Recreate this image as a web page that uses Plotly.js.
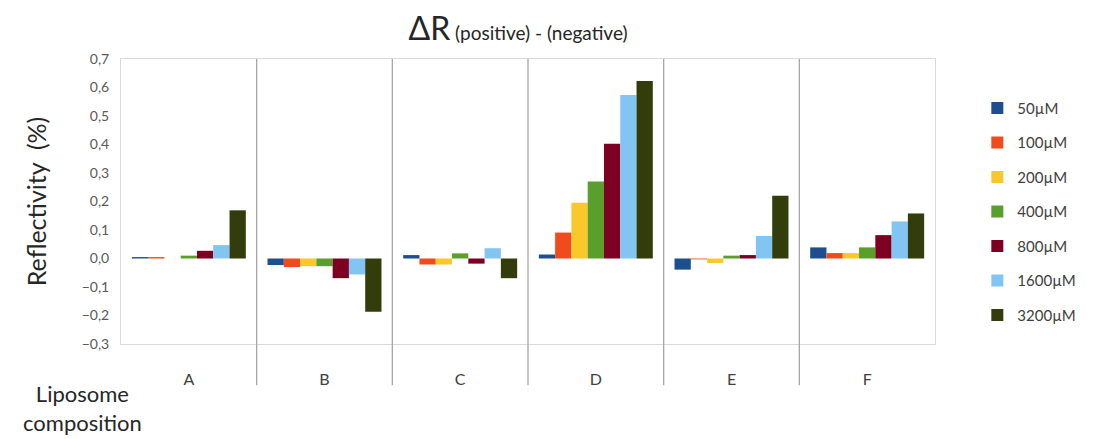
<!DOCTYPE html>
<html>
<head>
<meta charset="utf-8">
<script src="https://cdn.plot.ly/plotly-3.0.1.min.js"></script>
<style>html,body{margin:0;padding:0;background:#fff;}#chart{width:1114px;height:439px;}</style>
</head>
<body>
<div id="chart"></div>
<script>
const categories = ['A', 'B', 'C', 'D', 'E', 'F'];
const seriesNames = ['50µM', '100µM', '200µM', '400µM', '800µM', '1600µM', '3200µM'];
const seriesColors = ['#1d4f8e', '#f04b1c', '#fbc82c', '#5a9e2c', '#7d0022', '#82c4f2', '#323d0b'];
const v50   = [0.005, -0.023, 0.012, 0.014, -0.039, 0.039];
const v100  = [0.005, -0.030, -0.021, 0.091, -0.003, 0.019];
const v200  = [0.000, -0.027, -0.021, 0.196, -0.016, 0.019];
const v400  = [0.010, -0.027, 0.018, 0.270, 0.010, 0.039];
const v800  = [0.027, -0.069, -0.018, 0.403, 0.012, 0.082];
const v1600 = [0.047, -0.056, 0.036, 0.574, 0.079, 0.130];
const v3200 = [0.169, -0.187, -0.069, 0.623, 0.220, 0.158];
const yTicks = [-0.3, -0.2, -0.1, 0, 0.1, 0.2, 0.3, 0.4, 0.5, 0.6, 0.7];

const values = [v50, v100, v200, v400, v800, v1600, v3200];
const font = 'Lato, "Open Sans", sans-serif';

const traces = values.map((vals, i) => ({
  type: 'bar',
  x: categories,
  y: vals,
  name: seriesNames[i],
  legendgroup: 'g' + i,
  marker: {color: seriesColors[i], line: {width: 0}},
  hoverinfo: 'x+y+name'
}));

// Dividers between categories (Excel-like category tick marks)
const shapes = [];
for (let k = 1; k < categories.length; k++) {
  shapes.push({type: 'line', xref: 'x', yref: 'paper', x0: k - 0.5, x1: k - 0.5, y0: -0.145, y1: 1,
    line: {color: '#a6a6a6', width: 1.3}, layer: 'above'});
}

const layout = {
  width: 1114, height: 439,
  margin: {l: 121, r: 179, t: 59, b: 95},
  paper_bgcolor: '#ffffff', plot_bgcolor: '#ffffff',
  separators: ',.',
  font: {family: font, color: '#595959'},
  title: {
    text: '<span style="font-size:32px">ΔR</span><span style="font-size:19px"> (positive) - (negative)</span>',
    font: {family: font, color: '#262626', size: 32},
    x: 0.465, xanchor: 'center', y: 0.935, yanchor: 'middle'
  },
  barmode: 'group',
  bargap: 0.16,
  bargroupgap: 0,
  xaxis: {
    type: 'category',
    showgrid: false, zeroline: false,
    showline: true, mirror: true, linecolor: '#d9d9d9', linewidth: 1,
    ticks: '', tickfont: {size: 16, color: '#404040', family: font},
    ticklabelstandoff: 21
  },
  yaxis: {
    range: [-0.3, 0.7],
    tickvals: yTicks, tickformat: '.1f',
    showgrid: false, zeroline: false,
    showline: true, mirror: true, linecolor: '#d9d9d9', linewidth: 1,
    ticks: '', tickfont: {size: 14, color: '#595959', family: font},
    ticklabelstandoff: 8,
    title: {text: 'Reflectivity  (%)', font: {size: 25, color: '#262626', family: font}, standoff: 27}
  },
  showlegend: true,
  legend: {
    x: 1.052, xanchor: 'left', y: 0.885, yanchor: 'top',
    font: {size: 15, color: '#404040', family: font},
    traceorder: 'grouped', tracegroupgap: 12,
    itemwidth: 30, bgcolor: 'rgba(0,0,0,0)'
  },
  shapes: shapes,
  annotations: [
    {text: 'Liposome<br>composition', xref: 'paper', yref: 'paper', x: -0.047, y: -0.12, xanchor: 'center', yanchor: 'top',
     showarrow: false, align: 'center', font: {size: 22, color: '#262626', family: font}}
  ]
};

Plotly.newPlot('chart', traces, layout, {displayModeBar: false, staticPlot: true});
</script>
</body>
</html>
